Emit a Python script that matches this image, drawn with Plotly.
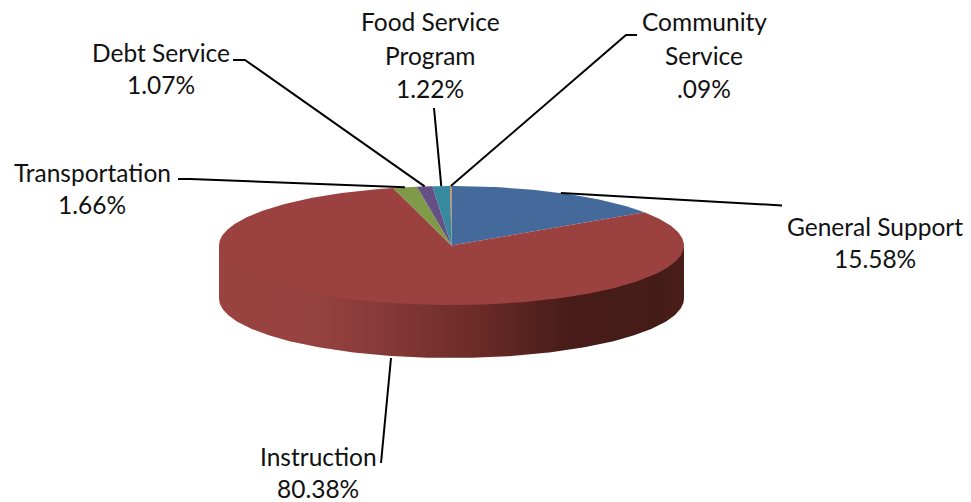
import numpy as np
import plotly.graph_objects as go

# Budget shares, clockwise from twelve o'clock
categories = ["General Support", "Instruction", "Transportation", "Debt Service",
              "Food Service Program", "Community Service"]
shares = [15.58, 80.38, 1.66, 1.07, 1.22, 0.09]
share_labels = ["15.58%", "80.38%", "1.66%", "1.07%", "1.22%", ".09%"]
slice_colors = ["#44699b", "#9b4240", "#7f9a48", "#664f83", "#38899f", "#c5803f"]

# Disc geometry in page pixels
CX, CY, RX, RY, DEPTH = 451.5, 245.5, 232.5, 59.5, 53.0
W, H = 971, 502

# Label text: (centre x, y of each line, lines)
label_layout = {
    "General Support": (875, [226, 258], ["General Support"]),
    "Instruction": (318, [456, 488], ["Instruction"]),
    "Transportation": (92, [172, 204], ["Transportation"]),
    "Debt Service": (161, [52, 84], ["Debt Service"]),
    "Food Service Program": (430, [21, 55, 88], ["Food Service", "Program"]),
    "Community Service": (704, [21, 55, 88], ["Community", "Service"]),
}

# Leader line bends, running from the label towards the disc
leader_bends = {
    "General Support": [(782, 205.5), (773, 205)],
    "Instruction": [(381, 463)],
    "Transportation": [(178, 179), (190, 179)],
    "Debt Service": [(233, 60), (245, 60)],
    "Food Service Program": [(434, 108)],
    "Community Service": [(637, 35), (626, 35)],
}
# Instruction is large enough that its leader sits off the slice midpoint
leader_tip_override = {"Instruction": (391, 358)}


def rim(theta):
    return CX + RX * np.sin(theta), CY - RY * np.cos(theta)


edges = 2 * np.pi * np.cumsum([0] + shares) / sum(shares)

fig = go.Figure()

# Outer wall: front half of the rim swept down by the disc depth.
# Its upper edge runs slightly under the top face so no seam shows.
t = np.linspace(np.pi / 2, 3 * np.pi / 2, 200)
xt, yt = rim(t)
fig.add_trace(go.Scatter(
    x=np.r_[xt, xt[::-1]], y=np.r_[yt - 3, yt[::-1] + DEPTH],
    mode="lines", line=dict(width=0), fill="toself", hoverinfo="skip",
    fillgradient=dict(
        type="horizontal",
        colorscale=[[0, "#9a4341"], [0.2, "#964240"], [0.35, "#873a37"], [0.57, "#692a26"],
                    [0.75, "#481c18"], [0.95, "#441c17"], [1, "#4a1e1b"]],
    ),
))

# Top face wedges
for name, a0, a1, color in zip(categories, edges[:-1], edges[1:], slice_colors):
    th = np.linspace(a0, a1, max(3, int((a1 - a0) * 80)))
    xs, ys = rim(th)
    fig.add_trace(go.Scatter(
        x=np.r_[CX, xs, CX], y=np.r_[CY, ys, CY], name=name,
        mode="lines", line=dict(width=0), fill="toself", fillcolor=color,
        hoverinfo="name",
    ))

# Leader lines, ending on the rim at each wedge's midpoint
for name, a0, a1 in zip(categories, edges[:-1], edges[1:]):
    tip = leader_tip_override.get(name, rim((a0 + a1) / 2))
    pts = leader_bends[name] + [tip]
    fig.add_trace(go.Scatter(
        x=[p[0] for p in pts], y=[p[1] for p in pts], mode="lines",
        line=dict(color="black", width=2), hoverinfo="skip",
    ))

# Two- and three-line labels, set line by line for exact leading
annotations = []
for name, pct in zip(categories, share_labels):
    cx, line_ys, lines = label_layout[name]
    for text, y in zip(lines + [pct], line_ys):
        annotations.append(dict(
            x=cx, y=y, text=text, showarrow=False, xanchor="center", yanchor="middle",
            font=dict(family="Lato", size=24.5, color="#111111"),
        ))

fig.update_layout(
    width=W, height=H, margin=dict(l=0, r=0, t=0, b=0), showlegend=False,
    paper_bgcolor="white", plot_bgcolor="white", annotations=annotations,
    xaxis=dict(range=[0, W], visible=False, fixedrange=True),
    yaxis=dict(range=[H, 0], visible=False, fixedrange=True),
)
fig.write_html("out.html", config=dict(displayModeBar=False))
